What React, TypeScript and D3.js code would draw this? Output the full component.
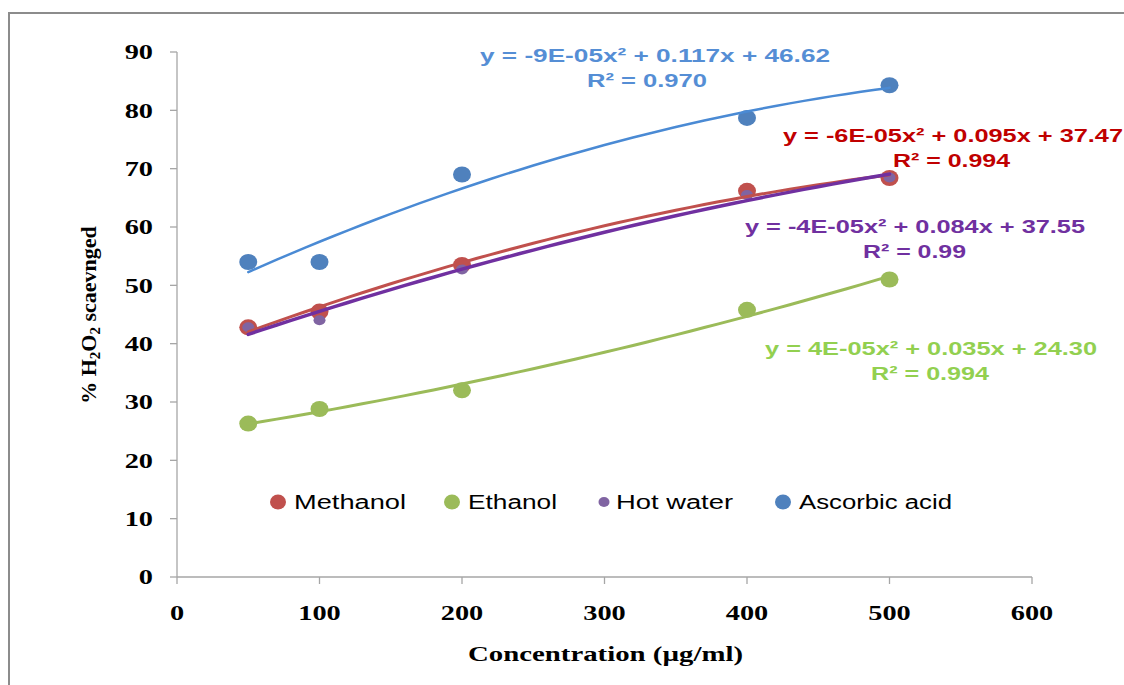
import React, { useEffect, useRef } from 'react';
import * as d3 from 'd3';

const concentrations = [50, 100, 200, 400, 500];
const methanol = [42.8, 45.5, 53.5, 66.2, 68.4];
const ethanol = [26.3, 28.8, 32.0, 45.8, 51.0];
const hotWater = [42.8, 44.0, 52.7, 65.5, 68.5];
const ascorbic = [54.0, 54.0, 69.0, 78.7, 84.3];

const seriesNames = ['Methanol', 'Ethanol', 'Hot water', 'Ascorbic acid'];
const xTicks = [0, 100, 200, 300, 400, 500, 600];
const yTicks = [0, 10, 20, 30, 40, 50, 60, 70, 80, 90];

const equations = [
  { eq: 'y = -6E-05x² + 0.095x + 37.47', r2: 'R² = 0.994' },
  { eq: 'y = 4E-05x² + 0.035x + 24.30', r2: 'R² = 0.994' },
  { eq: 'y = -4E-05x² + 0.084x + 37.55', r2: 'R² = 0.99' },
  { eq: 'y = -9E-05x² + 0.117x + 46.62', r2: 'R² = 0.970' },
];

// least squares quadratic fit (same as the spreadsheet trendline)
const polyFit2 = (xs: number[], ys: number[]) => {
  const n = xs.length;
  let s1 = 0, s2 = 0, s3 = 0, s4 = 0, t0 = 0, t1 = 0, t2 = 0;
  for (let i = 0; i < n; i++) {
    const x = xs[i], y = ys[i];
    s1 += x; s2 += x * x; s3 += x * x * x; s4 += x * x * x * x;
    t0 += y; t1 += x * y; t2 += x * x * y;
  }
  const m = [
    [n, s1, s2, t0],
    [s1, s2, s3, t1],
    [s2, s3, s4, t2],
  ];
  for (let c = 0; c < 3; c++) {
    for (let r = c + 1; r < 3; r++) {
      const f = m[r][c] / m[c][c];
      for (let k = c; k < 4; k++) m[r][k] -= f * m[c][k];
    }
  }
  const coef = [0, 0, 0];
  for (let r = 2; r >= 0; r--) {
    let s = m[r][3];
    for (let k = r + 1; k < 3; k++) s -= m[r][k] * coef[k];
    coef[r] = s / m[r][r];
  }
  return (x: number) => coef[0] + coef[1] * x + coef[2] * x * x;
};

const App = () => {
  const svgRef = useRef<SVGSVGElement>(null);

  useEffect(() => {
    const svg = d3.select(svgRef.current);
    svg.selectAll('*').remove();

    const x = d3.scaleLinear().domain([0, 600]).range([177, 1032]);
    const y = d3.scaleLinear().domain([0, 90]).range([577, 52]);

    const serif = '"Liberation Serif", "Times New Roman", serif';
    const sans = '"Liberation Sans", Arial, sans-serif';
    const stretch = 1.35; // the picture is wider than tall

    // outer frame
    svg.append('rect')
      .attr('x', 9).attr('y', 13)
      .attr('width', 1130).attr('height', 700)
      .attr('fill', 'none')
      .attr('stroke', '#8c8c8c')
      .attr('stroke-width', 2);

    // axes
    const axisColor = '#a6a6a6';
    svg.append('line')
      .attr('x1', x(0)).attr('x2', x(0))
      .attr('y1', y(90)).attr('y2', y(0))
      .attr('stroke', axisColor).attr('stroke-width', 1.3);
    svg.append('line')
      .attr('x1', x(0)).attr('x2', x(600))
      .attr('y1', y(0)).attr('y2', y(0))
      .attr('stroke', axisColor).attr('stroke-width', 1.3);

    svg.append('g').selectAll('line')
      .data(yTicks)
      .join('line')
      .attr('x1', x(0) - 7).attr('x2', x(0))
      .attr('y1', d => y(d)).attr('y2', d => y(d))
      .attr('stroke', axisColor).attr('stroke-width', 1.3);
    svg.append('g').selectAll('line')
      .data(xTicks)
      .join('line')
      .attr('x1', d => x(d)).attr('x2', d => x(d))
      .attr('y1', y(0)).attr('y2', y(0) + 7)
      .attr('stroke', axisColor).attr('stroke-width', 1.3);

    svg.append('g').selectAll('text')
      .data(yTicks)
      .join('text')
      .attr('transform', d => `translate(153,${y(d)}) scale(${stretch},1)`)
      .attr('dy', '0.35em')
      .attr('text-anchor', 'end')
      .style('font', `bold 21px ${serif}`)
      .text(d => d);

    svg.append('g').selectAll('text')
      .data(xTicks)
      .join('text')
      .attr('transform', d => `translate(${x(d)},620) scale(${stretch},1)`)
      .attr('text-anchor', 'middle')
      .style('font', `bold 21px ${serif}`)
      .text(d => d);

    // axis titles
    svg.append('text')
      .attr('x', 468).attr('y', 661)
      .attr('textLength', 275)
      .attr('lengthAdjust', 'spacingAndGlyphs')
      .style('font', `bold 22px ${serif}`)
      .text('Concentration (µg/ml)');

    const yt = svg.append('text')
      .attr('transform', 'translate(96,315) rotate(-90)')
      .attr('text-anchor', 'middle')
      .style('font', `bold 22px ${serif}`);
    yt.append('tspan').text('% H');
    yt.append('tspan').attr('baseline-shift', '-25%').style('font-size', '15px').text('2');
    yt.append('tspan').text('O');
    yt.append('tspan').attr('baseline-shift', '-25%').style('font-size', '15px').text('2');
    yt.append('tspan').text(' scaevnged');

    const series = [
      { name: seriesNames[0], values: methanol, color: '#c0504d', line: '#c0504d', r: 8.5, lw: 3 },
      { name: seriesNames[1], values: ethanol, color: '#9bbb59', line: '#9bbb59', r: 8.5, lw: 3 },
      { name: seriesNames[2], values: hotWater, color: '#8064a2', line: '#7030a0', r: 5.5, lw: 3.5 },
      { name: seriesNames[3], values: ascorbic, color: '#4f81bd', line: '#4a8ad4', r: 8.5, lw: 2.5 },
    ];

    // markers
    series.forEach(s => {
      svg.append('g').selectAll('ellipse')
        .data(concentrations.map((c, i) => [c, s.values[i]]))
        .join('ellipse')
        .attr('cx', d => x(d[0]))
        .attr('cy', d => y(d[1]))
        .attr('rx', s.r + 0.5)
        .attr('ry', s.r - 0.5)
        .attr('fill', s.color);
    });

    // trendlines
    const line = d3.line<number[]>().x(d => x(d[0])).y(d => y(d[1])).curve(d3.curveBasis);
    series.forEach(s => {
      const f = polyFit2(concentrations, s.values);
      const pts = d3.range(50, 501, 10).map(v => [v, f(v)]);
      svg.append('path')
        .attr('d', line(pts))
        .attr('fill', 'none')
        .attr('stroke', s.line)
        .attr('stroke-width', s.lw)
        .attr('stroke-linecap', 'round');
    });

    // equation labels
    const eqPos = [
      { x: 783, y: 142, w: 340, rx: 893, rw: 117, color: '#c00000' },
      { x: 765, y: 355, w: 332, rx: 871, rw: 118, color: '#92d050' },
      { x: 745, y: 233, w: 340, rx: 863, rw: 103, color: '#7030a0' },
      { x: 480, y: 62, w: 350, rx: 587, rw: 120, color: '#558ed5' },
    ];
    equations.forEach((e, i) => {
      const p = eqPos[i];
      svg.append('text')
        .attr('x', p.x).attr('y', p.y)
        .attr('textLength', p.w)
        .attr('lengthAdjust', 'spacingAndGlyphs')
        .attr('fill', p.color)
        .style('font', `bold 19px ${sans}`)
        .text(e.eq);
      svg.append('text')
        .attr('x', p.rx).attr('y', p.y + 25)
        .attr('textLength', p.rw)
        .attr('lengthAdjust', 'spacingAndGlyphs')
        .attr('fill', p.color)
        .style('font', `bold 19px ${sans}`)
        .text(e.r2);
    });

    // legend
    const legendX = [278, 452, 604, 783];
    const legendW = [112, 89, 117, 153];
    series.forEach((s, i) => {
      const small = s.r < 6;
      svg.append('ellipse')
        .attr('cx', legendX[i]).attr('cy', 502)
        .attr('rx', small ? 5.5 : 8).attr('ry', small ? 5 : 7.5)
        .attr('fill', s.color);
      svg.append('text')
        .attr('x', legendX[i] + (small ? 12 : 16))
        .attr('y', 509)
        .attr('textLength', legendW[i])
        .attr('lengthAdjust', 'spacingAndGlyphs')
        .style('font', `20px ${sans}`)
        .attr('fill', '#000')
        .text(s.name);
    });
  }, []);

  return (
    <svg ref={svgRef} width={1124} height={685} style={{ position: 'absolute', left: 0, top: 0, background: '#fff' }} />
  );
};

export default App;
